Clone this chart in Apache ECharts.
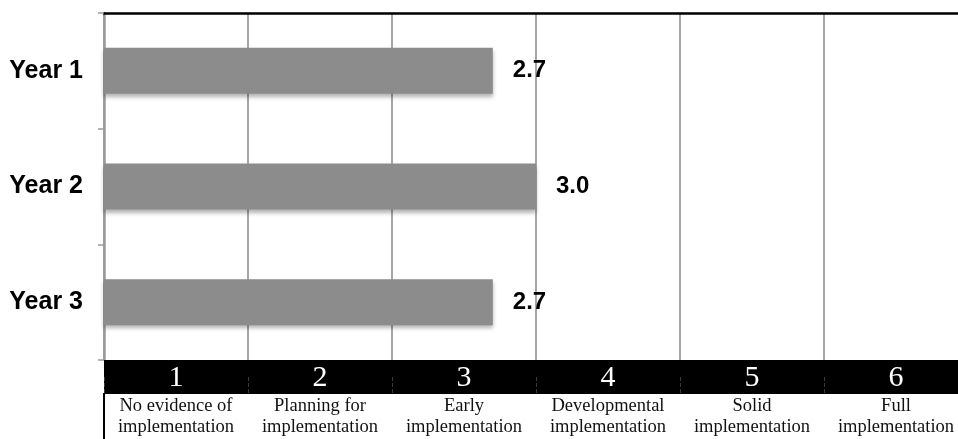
<!DOCTYPE html>
<html><head><meta charset="utf-8">
<script src="https://cdn.jsdelivr.net/npm/echarts@6/dist/echarts.min.js"></script>
<style>html,body{margin:0;padding:0;background:#fff}#c{width:958px;height:439px}</style>
</head><body><div id="c"></div>
<script>
const categories = ['Year 1', 'Year 2', 'Year 3'];
const values = [2.7, 3.0, 2.7];
const levelNumbers = ['1', '2', '3', '4', '5', '6'];
const levelNames = [
  'No evidence of\nimplementation',
  'Planning for\nimplementation',
  'Early\nimplementation',
  'Developmental\nimplementation',
  'Solid\nimplementation',
  'Full\nimplementation'
];
const levelCats = levelNumbers.map((n, i) => n + '|' + levelNames[i]);

const chart = echarts.init(document.getElementById('c'));
chart.setOption({
  animation: false,
  grid: { left: 104, top: 13, width: 864, height: 347, containLabel: false, outerBoundsMode: 'none' },
  xAxis: [
    {
      type: 'value', position: 'top', min: 0, max: 6, interval: 1,
      axisLine: { show: true, lineStyle: { color: '#000', width: 2.5 } },
      axisTick: { show: false }, axisLabel: { show: false },
      splitLine: { show: true, lineStyle: { color: '#a6a6a6', width: 2 } }
    },
    {
      type: 'category', position: 'bottom', data: levelCats, boundaryGap: true,
      offset: 17,
      axisLine: { show: true, lineStyle: { color: '#000', width: 34, cap: 'butt' } },
      axisTick: { show: true, inside: false, length: 16, lineStyle: { color: '#3a3a3a', width: 1, type: 'dashed' } },
      splitLine: { show: false },
      axisLabel: {
        margin: -17,
        interval: 0,
        formatter: function (v) {
          const p = v.split('|');
          return '{n|' + p[0] + '}\n' + p[1].split('\n').map(s => '{d|' + s + '}').join('\n');
        },
        rich: {
          n: { color: '#fff', fontFamily: '"Liberation Serif", serif', fontSize: 30, lineHeight: 36, align: 'center' },
          d: { color: '#111', fontFamily: '"Liberation Serif", serif', fontSize: 18.5, lineHeight: 20.5, align: 'center' }
        }
      }
    }
  ],
  yAxis: {
    type: 'category', data: categories, inverse: true,
    axisLine: { show: true, lineStyle: { color: '#9a9a9a', width: 2.5 } },
    axisTick: { show: true, length: 6, lineStyle: { color: '#9a9a9a', width: 1.5 } },
    axisLabel: { margin: 21, color: '#000', fontFamily: '"Liberation Sans", Arial, sans-serif', fontWeight: 'bold', fontSize: 25 }
  },
  series: [{
    type: 'bar', data: values, xAxisIndex: 0, barWidth: 46,
    itemStyle: { color: '#8c8c8c', shadowBlur: 4, shadowColor: 'rgba(0,0,0,0.3)', shadowOffsetY: 3 },
    label: {
      show: true, position: 'right', distance: 20,
      formatter: p => p.value.toFixed(1),
      color: '#000', fontFamily: '"Liberation Sans", Arial, sans-serif', fontWeight: 'bold', fontSize: 24
    }
  }],
  graphic: [{
    type: 'line', shape: { x1: 104, y1: 393, x2: 104, y2: 439 },
    style: { stroke: '#000', lineWidth: 2 }
  }]
});
</script></body></html>
